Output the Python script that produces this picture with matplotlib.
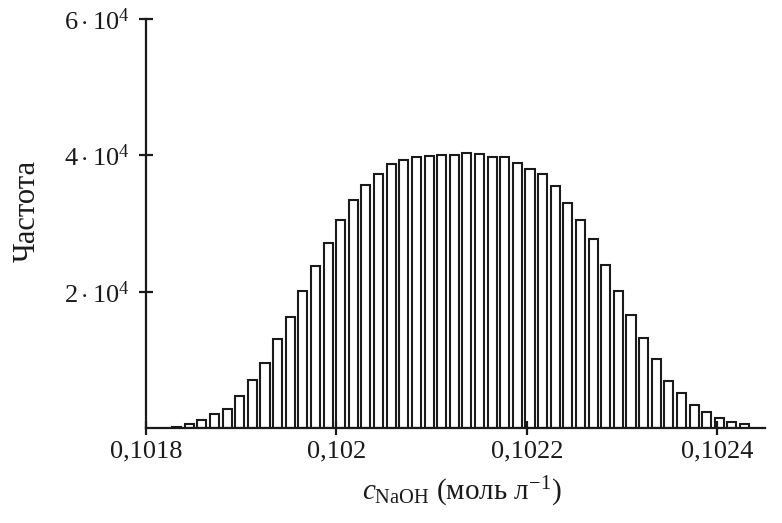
import matplotlib.pyplot as plt
import numpy as np

# histogram of NaOH concentration (Monte Carlo)
bin_start = 0.1018322   # centre of first bin
bin_width = 1.3256e-5
counts = [200, 590, 1120, 2060, 2840, 4640, 6990, 9540, 13120, 16300, 20170,
          23740, 27180, 30460, 33400, 35650, 37220, 38700, 39320, 39820, 39970,
          40000, 40000, 40400, 40150, 39800, 39800, 38930, 38050, 37210, 35500,
          33050, 30470, 27670, 23850, 20170, 16650, 13230, 10140, 6950, 5140,
          3430, 2350, 1470, 820, 630]

xticks = [0.1018, 0.1020, 0.1022, 0.1024]
xtick_labels = ['0,1018', '0,102', '0,1022', '0,1024']
yticks = [20000, 40000, 60000]
ytick_labels = [r'$2\cdot10^4$', r'$4\cdot10^4$', r'$6\cdot10^4$']

plt.rcParams['font.family'] = 'Liberation Serif'
plt.rcParams['mathtext.fontset'] = 'custom'
plt.rcParams['mathtext.rm'] = 'Liberation Serif'
plt.rcParams['mathtext.it'] = 'Liberation Serif:italic'

centers = bin_start + bin_width * np.arange(len(counts))

fig = plt.figure(figsize=(7.82, 5.23), dpi=100)
ax = fig.add_axes([0.1867, 0.1816, 0.978 - 0.1867, 0.9637 - 0.1816])

ax.bar(centers, counts, width=0.72 * bin_width, color='white',
       edgecolor='#1a1a1a', linewidth=1.5)

ax.set_xlim(0.1018, 0.10245)
ax.set_ylim(0, 60000)

for s in ['top', 'right']:
    ax.spines[s].set_visible(False)
for s in ['left', 'bottom']:
    ax.spines[s].set_linewidth(1.6)
    ax.spines[s].set_color('#1a1a1a')

ax.set_xticks(xticks)
ax.set_xticklabels(xtick_labels)
ax.set_yticks(yticks)
ax.set_yticklabels(ytick_labels)
ax.tick_params(direction='inout', length=10, width=1.6, labelsize=19,
               color='#1a1a1a', labelcolor='#1a1a1a')
ax.tick_params(axis='x', pad=4)
ax.tick_params(axis='y', pad=7)

ax.set_xlabel(r'$c_{\mathrm{NaOH}}$ (моль л$^{-1}$)', fontsize=21,
              color='#1a1a1a', labelpad=14)
ax.set_ylabel('Частота', fontsize=22, color='#1a1a1a')
ax.yaxis.set_label_coords(-0.168, 0.53)
ax.xaxis.set_label_coords(0.51, -0.115)

plt.savefig('out.png', dpi=100)
